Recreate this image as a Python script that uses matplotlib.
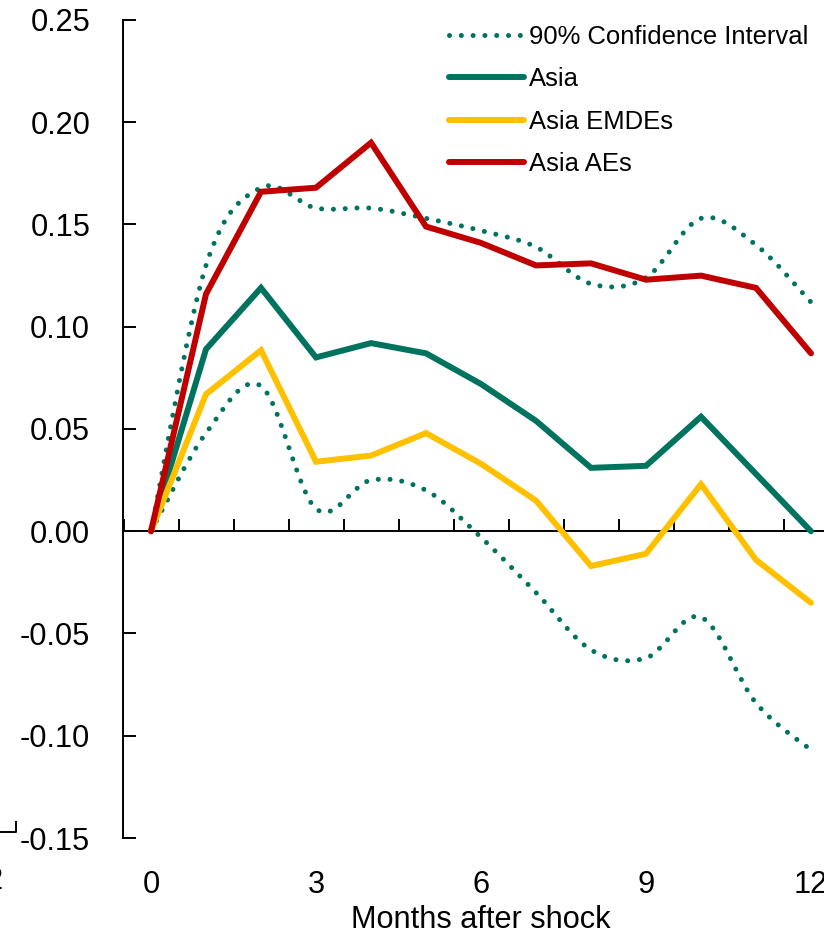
import matplotlib
matplotlib.use("Agg")
import matplotlib.pyplot as plt
from matplotlib import font_manager as fm
from matplotlib.lines import Line2D
from matplotlib.path import Path
from matplotlib.patches import PathPatch
import numpy as np

# Impulse responses by month after the shock
months = np.arange(0, 13)
asia = [0.0, 0.089, 0.119, 0.085, 0.092, 0.087, 0.072, 0.054, 0.031, 0.032, 0.056, 0.028, 0.0]
asia_emde = [0.0, 0.067, 0.0885, 0.034, 0.037, 0.048, 0.033, 0.015, -0.017, -0.011, 0.023, -0.014, -0.035]
asia_ae = [0.0, 0.116, 0.166, 0.168, 0.190, 0.149, 0.141, 0.130, 0.131, 0.123, 0.125, 0.119, 0.087]
ci_upper = [0.0, 0.130, 0.168, 0.158, 0.158, 0.153, 0.147, 0.139, 0.121, 0.124, 0.153, 0.140, 0.112]
ci_lower = [0.0, 0.048, 0.071, 0.011, 0.025, 0.020, -0.003, -0.030, -0.058, -0.062, -0.042, -0.084, -0.107]

xticks = [0, 3, 6, 9, 12]
yticks = np.arange(-0.15, 0.2501, 0.05)

TEAL = "#00735F"
GOLD = "#FFC000"
RED = "#C00000"

names = {f.name for f in fm.fontManager.ttflist}
if "Liberation Sans Narrow" in names:
    FONT, scale = "Liberation Sans Narrow", 1.0
else:
    FONT, scale = "Liberation Sans", 0.82
plt.rcParams["font.family"] = [FONT, "DejaVu Sans"]
plt.rcParams["axes.unicode_minus"] = False

TICK_FS = 27 * scale
LEG_FS = 22.5 * scale


def smooth_path(x, y):
    # Catmull-Rom through the points, written as cubic Bezier segments
    verts = [(x[0], y[0])]
    codes = [Path.MOVETO]
    n = len(x)
    for i in range(n - 1):
        a = i - 1 if i > 0 else i
        d = i + 2 if i + 2 < n else i + 1
        c1 = (x[i] + (x[i + 1] - x[a]) / 6, y[i] + (y[i + 1] - y[a]) / 6)
        c2 = (x[i + 1] - (x[d] - x[i]) / 6, y[i + 1] - (y[d] - y[i]) / 6)
        verts += [c1, c2, (x[i + 1], y[i + 1])]
        codes += [Path.CURVE4] * 3
    return Path(verts, codes)


fig = plt.figure(figsize=(8.24, 9.38), dpi=100)
ax = fig.add_axes([123.5 / 824, 1 - 838 / 938, 715 / 824, 818 / 938])
ax.set_xlim(-0.5, 12.5)
ax.set_ylim(-0.15, 0.25)

dots = (0, (0.01, 2.35))
for band in (ci_upper, ci_lower):
    ax.add_patch(PathPatch(smooth_path(months, band), fill=False, edgecolor=TEAL,
                           lw=3.6, linestyle=dots, capstyle="round", zorder=3))

line_kw = dict(lw=4.3, solid_capstyle="round", solid_joinstyle="miter", zorder=4)
ax.plot(months, asia, color=TEAL, **line_kw)
ax.plot(months, asia_emde, color=GOLD, **line_kw)
ax.plot(months, asia_ae, color=RED, **line_kw)

# axes: left spine plus a zero line carrying the category ticks
for s in ("top", "right"):
    ax.spines[s].set_visible(False)
ax.spines["left"].set_linewidth(1.4)
ax.spines["bottom"].set_position(("data", 0))
ax.spines["bottom"].set_linewidth(1.4)
ax.set_xticks(np.arange(-0.5, 13, 1))
ax.tick_params(axis="x", direction="in", length=9, width=1.4, labelbottom=False)
ax.set_yticks(yticks)
ax.set_yticklabels([f"{v:.2f}" for v in yticks])
ax.tick_params(axis="y", direction="in", length=9, width=1.4, pad=24, labelsize=TICK_FS)

sec = ax.secondary_xaxis("bottom")
sec.spines["bottom"].set_visible(False)
sec.set_xticks(xticks)
sec.set_xticklabels([str(v) for v in xticks])
sec.tick_params(length=0, pad=23, labelsize=TICK_FS)

ax.set_xlabel("Months after shock", fontsize=TICK_FS)
ax.xaxis.set_label_coords(0.5, -0.082)

handles = [
    Line2D([], [], color=TEAL, lw=3.6, linestyle=dots, dash_capstyle="round"),
    Line2D([], [], color=TEAL, lw=4.3, solid_capstyle="round"),
    Line2D([], [], color=GOLD, lw=4.3, solid_capstyle="round"),
    Line2D([], [], color=RED, lw=4.3, solid_capstyle="round"),
]
labels = ["90% Confidence Interval", "Asia", "Asia EMDEs", "Asia AEs"]
fig.legend(handles, labels, loc="upper left", bbox_to_anchor=(449 / 824, 1 - 25 / 938),
           frameon=False, borderpad=0, borderaxespad=0, fontsize=LEG_FS,
           handlelength=2.93, handletextpad=0.2, labelspacing=0.72)

# edge of the neighbouring panel
fig.add_artist(Line2D([0, 16 / 824, 16 / 824], [1 - 832 / 938, 1 - 832 / 938, 1 - 822 / 938],
                      transform=fig.transFigure, color="black", lw=1.4))
fig.text(4 / 824, 1 - 881 / 938, "12", ha="right", va="center", fontsize=TICK_FS)

fig.savefig("out.png", dpi=100)
